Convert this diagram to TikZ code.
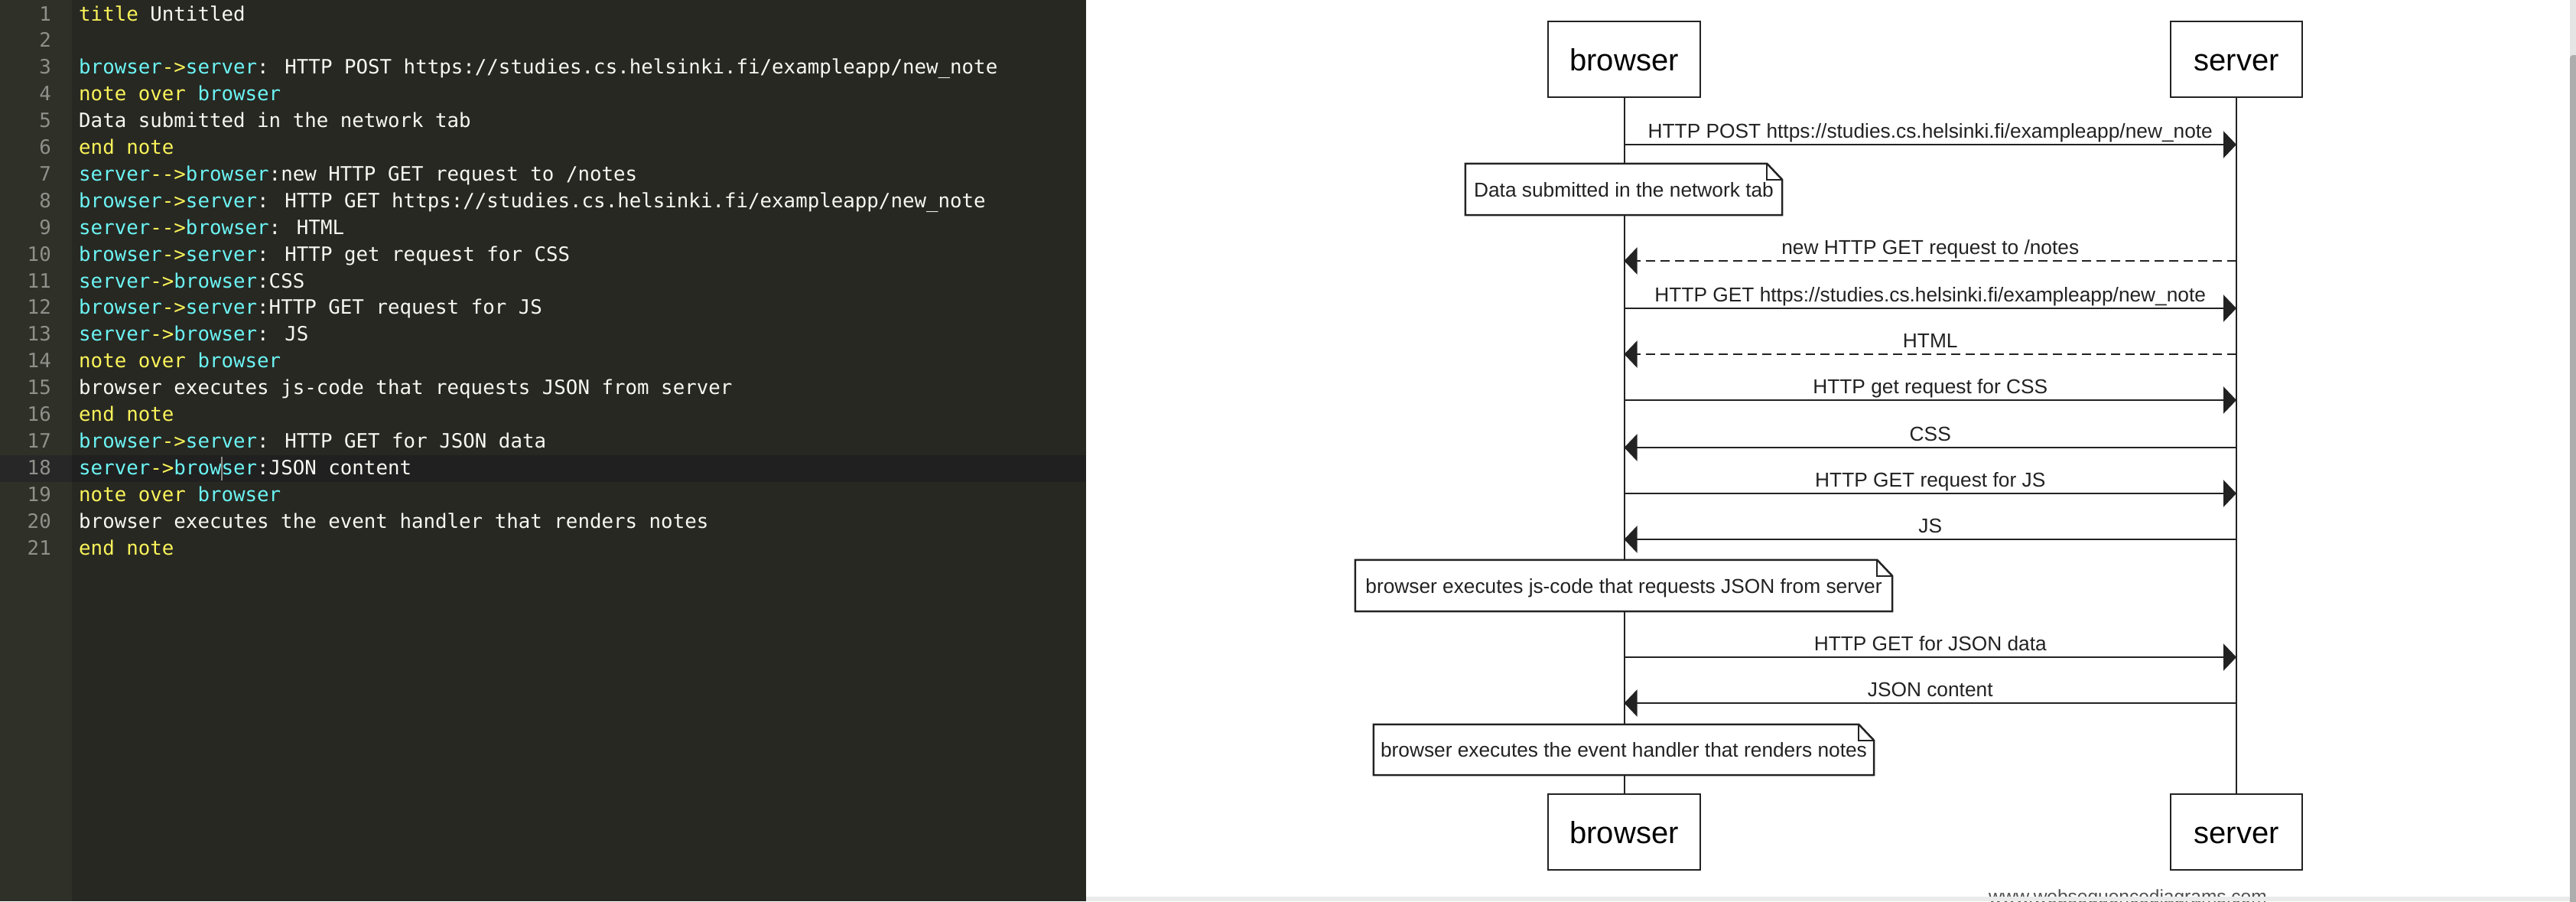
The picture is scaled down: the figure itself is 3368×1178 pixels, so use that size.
\documentclass[tikz,border=0pt]{standalone}
\usepackage{fontspec}
\usetikzlibrary{arrows.meta}
\newfontfamily\edfont{DejaVu Sans Mono}
\newfontfamily\labfont{Liberation Sans}
\definecolor{edbg}{HTML}{272822}
\definecolor{gut}{HTML}{2F3129}
\definecolor{actl}{HTML}{202020}
\definecolor{actg}{HTML}{272727}
\definecolor{yel}{HTML}{FAF35A}
\definecolor{cy}{HTML}{6CF4F4}
\definecolor{edtxt}{HTML}{F8F8F2}
\definecolor{lnum}{HTML}{8F908A}
\definecolor{ink}{HTML}{222222}
\newcommand\edfw[2]{\textcolor{cy}{#1}\textcolor{yel}{->}\textcolor{cy}{#2}}
\newcommand\edbw[2]{\textcolor{cy}{#1}\textcolor{yel}{-{}->}\textcolor{cy}{#2}}
\newcommand\edkw[1]{\textcolor{yel}{#1}}
\tikzset{
  edline/.style={anchor=base west, inner sep=0pt, text=edtxt, font=\edfont\fontsize{25.8}{30}\selectfont},
  ednum/.style={anchor=base east, inner sep=0pt, text=lnum, font=\edfont\fontsize{25.8}{30}\selectfont},
  actor/.style={draw=ink, line width=2.5pt, fill=white, inner sep=0pt, text height=29pt, text depth=0pt, minimum height=99pt, font=\labfont\fontsize{40}{46}\selectfont},
  life/.style={draw=ink, line width=2pt},
  msg/.style={draw=ink, line width=2.5pt, -{Triangle[length=17pt,width=35pt]}},
  dmsg/.style={msg, dash pattern=on 12pt off 7pt},
  msglabel/.style={anchor=base, inner sep=0pt, yshift=9pt, text=ink, font=\labfont\fontsize{26.3}{30}\selectfont},
  notebox/.style={fill=white, draw=none, inner sep=0pt, text height=19pt, text depth=0pt, text=ink, font=\labfont\fontsize{26.3}{30}\selectfont},
  noteline/.style={draw=ink, line width=2.5pt, line join=miter},
  foldline/.style={draw=ink, line width=1.5pt},
  wmark/.style={anchor=base west, inner sep=0pt, text=ink!80, font=\labfont\fontsize{24.5}{28}\selectfont}
}
\begin{document}
\begin{tikzpicture}[x=1pt,y=-1pt]
\useasboundingbox (0,0) rectangle (3368,1178);
% editor
\fill[edbg] (0,0) rectangle (1420,1178);
\fill[gut] (0,0) rectangle (94,1178);
\fill[actg] (0,595) rectangle (94,630);
\fill[actl] (94,595) rectangle (1420,630);
\foreach \n in {1,...,21}{
  \node[ednum] (ln\n) at (67,{27+(\n-1)*34.9}) {\n};
}
\node[edline] (e1) at (103,27.0) {\edkw{title} Untitled};
\node[edline] (e3) at (103,96.8) {\edfw{browser}{server}: HTTP POST https://studies.cs.helsinki.fi/exampleapp/new\_note};
\node[edline] (e4) at (103,131.7) {\edkw{note over} \textcolor{cy}{browser}};
\node[edline] (e5) at (103,166.6) {Data submitted in the network tab};
\node[edline] (e6) at (103,201.5) {\edkw{end note}};
\node[edline] (e7) at (103,236.4) {\edbw{server}{browser}:new HTTP GET request to /notes};
\node[edline] (e8) at (103,271.3) {\edfw{browser}{server}: HTTP GET https://studies.cs.helsinki.fi/exampleapp/new\_note};
\node[edline] (e9) at (103,306.2) {\edbw{server}{browser}: HTML};
\node[edline] (e10) at (103,341.1) {\edfw{browser}{server}: HTTP get request for CSS};
\node[edline] (e11) at (103,376.0) {\edfw{server}{browser}:CSS};
\node[edline] (e12) at (103,410.9) {\edfw{browser}{server}:HTTP GET request for JS};
\node[edline] (e13) at (103,445.8) {\edfw{server}{browser}: JS};
\node[edline] (e14) at (103,480.7) {\edkw{note over} \textcolor{cy}{browser}};
\node[edline] (e15) at (103,515.6) {browser executes js-code that requests JSON from server};
\node[edline] (e16) at (103,550.5) {\edkw{end note}};
\node[edline] (e17) at (103,585.4) {\edfw{browser}{server}: HTTP GET for JSON data};
\node[edline] (e18) at (103,620.3) {\edfw{server}{browser}:JSON content};
\node[edline] (e19) at (103,655.2) {\edkw{note over} \textcolor{cy}{browser}};
\node[edline] (e20) at (103,690.1) {browser executes the event handler that renders notes};
\node[edline] (e21) at (103,725.0) {\edkw{end note}};
\draw[draw=lnum, line width=2pt] (290,597) -- (290,628);
% diagram panel
\fill[white] (1420,0) rectangle (3368,1178);
\node[wmark] (wm) at (2600,1180) {www.websequencediagrams.com};
\fill[black!8] (1420,1172) rectangle (3360,1178);
\fill[black!10] (3360,0) rectangle (3368,1178);
\fill[black!32, rounded corners=4pt] (3360,72) rectangle (3376,1190);
% actors
\node[actor, minimum width=199pt] (btop) at (2123.5,77.5) {browser};
\node[actor, minimum width=172pt] (stop) at (2924,77.5) {server};
\node[actor, minimum width=199pt] (bbot) at (2123.5,1087.5) {browser};
\node[actor, minimum width=172pt] (sbot) at (2924,1087.5) {server};
\draw[life] (btop.south) -- (bbot.north);
\draw[life] (stop.south) -- (sbot.north);
% messages
\draw[msg] (btop |- 0,189) -- (stop |- 0,189) node[msglabel, midway] {HTTP POST https://studies.cs.helsinki.fi/exampleapp/new\_note};
\draw[dmsg] (stop |- 0,341) -- (btop |- 0,341) node[msglabel, midway] {new HTTP GET request to /notes};
\draw[msg] (btop |- 0,403) -- (stop |- 0,403) node[msglabel, midway] {HTTP GET https://studies.cs.helsinki.fi/exampleapp/new\_note};
\draw[dmsg] (stop |- 0,463) -- (btop |- 0,463) node[msglabel, midway] {HTML};
\draw[msg] (btop |- 0,523) -- (stop |- 0,523) node[msglabel, midway] {HTTP get request for CSS};
\draw[msg] (stop |- 0,585) -- (btop |- 0,585) node[msglabel, midway] {CSS};
\draw[msg] (btop |- 0,645) -- (stop |- 0,645) node[msglabel, midway] {HTTP GET request for JS};
\draw[msg] (stop |- 0,705) -- (btop |- 0,705) node[msglabel, midway] {JS};
\draw[msg] (btop |- 0,859) -- (stop |- 0,859) node[msglabel, midway] {HTTP GET for JSON data};
\draw[msg] (stop |- 0,919) -- (btop |- 0,919) node[msglabel, midway] {JSON content};
% notes
\foreach \nm/\cx/\cy/\w/\h/\t in {
  n1/2123/247.5/414/67/{Data submitted in the network tab},
  n2/2123/765.5/702/67/{browser executes js-code that requests JSON from server},
  n3/2123/980/654/66/{browser executes the event handler that renders notes}}{
  \node[notebox, minimum width=\w pt, minimum height=\h pt] (\nm) at (\cx,\cy) {\t};
  \draw[noteline] (\nm.north west) -- ([xshift=-20pt]\nm.north east) -- ([yshift=-21pt]\nm.north east) -- (\nm.south east) -- (\nm.south west) -- cycle;
  \draw[foldline] ([xshift=-20pt]\nm.north east) |- ([yshift=-21pt]\nm.north east);
}
\end{tikzpicture}
\end{document}
